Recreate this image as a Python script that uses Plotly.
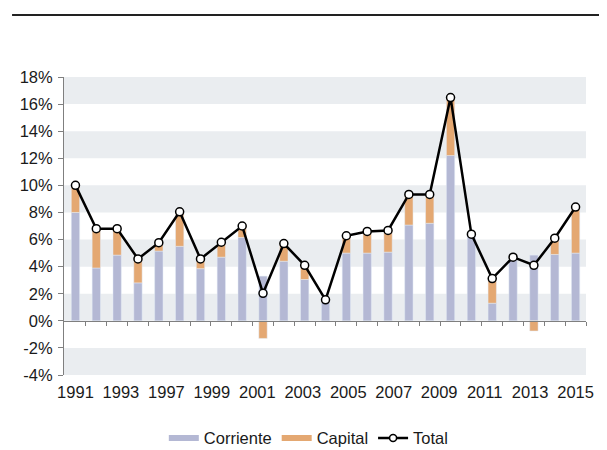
import plotly.graph_objects as go

years = list(range(1991, 2016))
corriente = [8.0, 3.9, 4.85, 2.8, 5.15, 5.5, 3.85, 4.7, 6.15, 3.3, 4.4, 3.05, 1.35, 5.0,
             5.0, 5.07, 7.07, 7.2, 12.2, 6.35, 1.3, 4.5, 4.85, 4.9, 5.0]
capital = [2.0, 2.85, 1.95, 1.75, 0.6, 2.55, 0.7, 1.1, 0.85, -1.3, 1.3, 1.05, 0.2, 1.3,
           1.6, 1.6, 2.25, 2.15, 4.3, 0.05, 1.8, 0.2, -0.75, 1.2, 3.35]
total = [10.0, 6.8, 6.8, 4.57, 5.77, 8.05, 4.57, 5.8, 7.0, 2.03, 5.7, 4.1, 1.55, 6.28,
         6.6, 6.67, 9.33, 9.33, 16.48, 6.4, 3.12, 4.7, 4.1, 6.1, 8.4]

x_tick_labels = ["1991", "1993", "1997", "1999", "2001", "2003", "2005", "2007",
                 "2009", "2011", "2013", "2015"]
y_tick_vals = [-4, -2, 0, 2, 4, 6, 8, 10, 12, 14, 16, 18]
y_tick_labels = ["-4%", "-2%", "0%", "2%", "4%", "6%", "8%", "10%", "12%", "14%", "16%", "18%"]
band_starts = [-4, 0, 4, 8, 12, 16]

C_CORR = "#b4b8d4"
C_CAP = "#e4a872"
GRAY = "#7f7f7f"
FONT = "Liberation Sans, Arial, sans-serif"
FS = 16.5

n_lab = len(x_tick_labels)
x_tick_pos = [years[0] + k * (years[-1] - years[0]) / (n_lab - 1) for k in range(n_lab)]
boundaries = [y + 0.5 for y in years]
xr = [years[0] - 0.55, years[-1] + 0.5]

fig = go.Figure()
fig.add_trace(go.Bar(x=years, y=corriente, marker_color=C_CORR, width=0.4,
                     showlegend=False, name="Corriente"))
fig.add_trace(go.Bar(x=years, y=capital, marker_color=C_CAP, width=0.4,
                     showlegend=False, name="Capital"))
fig.add_trace(go.Scatter(x=years, y=total, mode="lines+markers", name="Total",
                         line=dict(color="black", width=2.5),
                         marker=dict(size=8, color="white", line=dict(color="black", width=1.5)),
                         showlegend=False))
# legend entries
fig.add_trace(go.Scatter(x=[None], y=[None], mode="lines", name="Corriente",
                         line=dict(color=C_CORR, width=6)))
fig.add_trace(go.Scatter(x=[None], y=[None], mode="lines", name="Capital",
                         line=dict(color=C_CAP, width=6)))
fig.add_trace(go.Scatter(x=[None], y=[None], mode="lines+markers", name="Total",
                         line=dict(color="black", width=2.5),
                         marker=dict(size=7, color="white", line=dict(color="black", width=1.5))))
# dummy trace for the zero-line tick axis
fig.add_trace(go.Scatter(x=[None], y=[None], xaxis="x2", yaxis="y", showlegend=False,
                         hoverinfo="skip"))

shapes = []
for b in band_starts:
    shapes.append(dict(type="rect", xref="paper", yref="y", x0=0, x1=1, y0=b, y1=b + 2,
                       fillcolor="#eaedf0", line=dict(width=0), layer="below"))
shapes.append(dict(type="line", xref="paper", yref="paper", x0=-0.0995, x1=1.0277,
                   y0=1.208, y1=1.208, line=dict(color="#222222", width=2)))

fig.update_layout(
    width=599, height=442,
    margin=dict(l=56, r=20.5, t=69, b=75, autoexpand=False),
    paper_bgcolor="white", plot_bgcolor="white",
    barmode="relative",
    font=dict(family=FONT, size=FS, color="#1a1a1a"),
    shapes=shapes,
    showlegend=True,
    legend=dict(orientation="h", x=0.469, xanchor="center", y=-0.212, yanchor="middle",
                font=dict(size=16.5), itemwidth=30, tracegroupgap=0),
    xaxis=dict(range=xr, tickvals=x_tick_pos, ticktext=x_tick_labels, showgrid=False,
               zeroline=False, showline=False, ticks="", tickfont=dict(size=FS),
               ticklabelstandoff=5),
    xaxis2=dict(range=xr, overlaying="x", anchor="free", position=4 / 22,
                tickvals=boundaries, ticks="outside", ticklen=4, tickcolor=GRAY,
                showticklabels=False, showline=True, linecolor=GRAY, linewidth=1,
                showgrid=False, zeroline=False),
    yaxis=dict(range=[-4, 18], tickvals=y_tick_vals, ticktext=y_tick_labels,
               showgrid=False, zeroline=False, showline=True, linecolor=GRAY,
               linewidth=1, ticks="outside", ticklen=5, tickcolor=GRAY,
               tickfont=dict(size=FS), ticklabelstandoff=2),
)

fig.write_html("out.html")
